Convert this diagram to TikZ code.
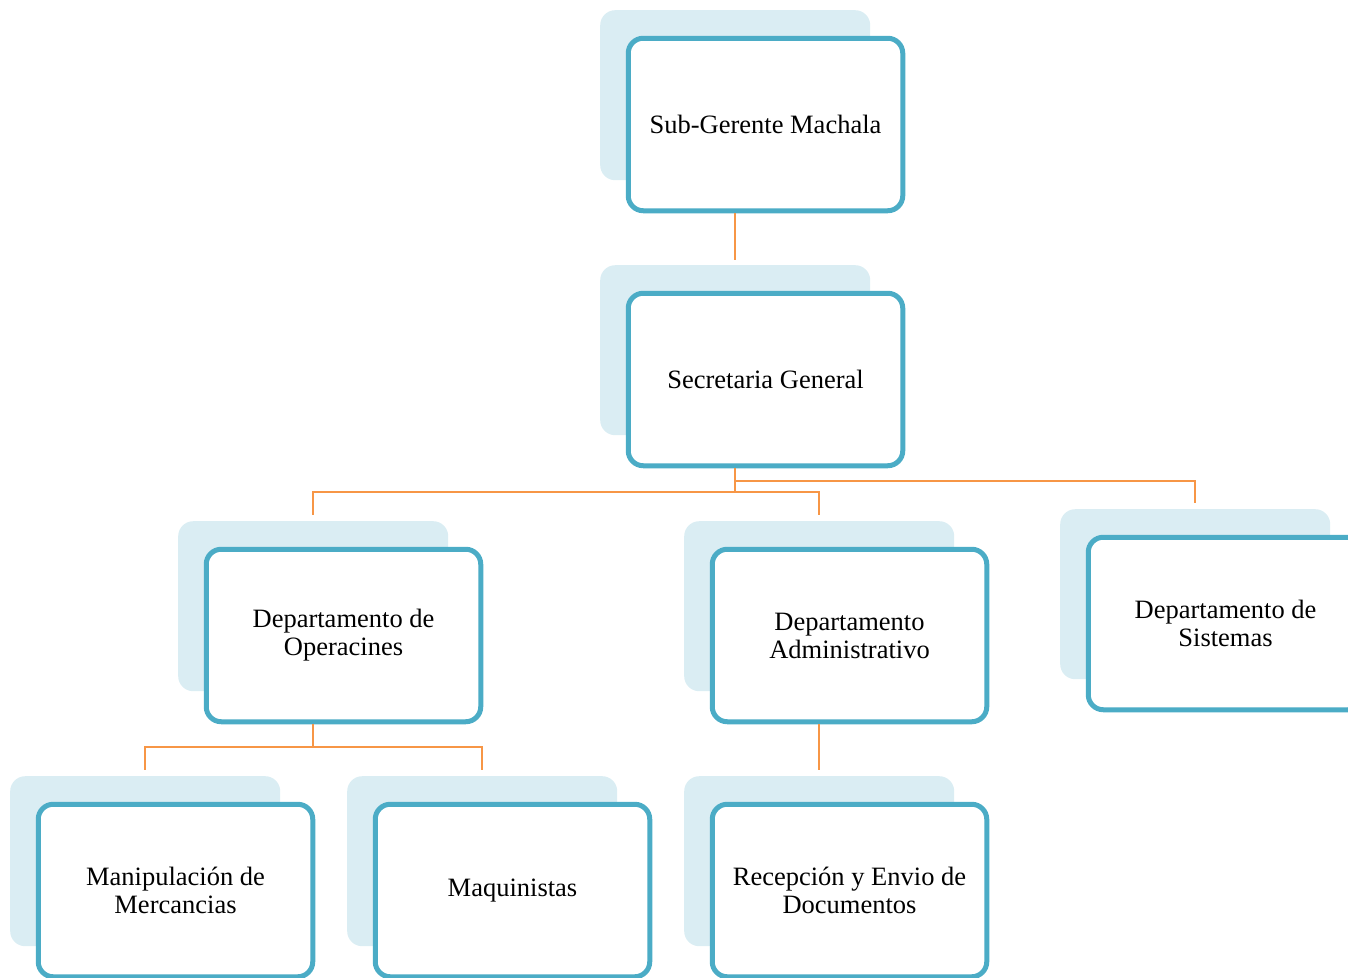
\documentclass[tikz,border=0pt]{standalone}
\usepackage{fontspec}
\setmainfont{Liberation Serif}
\definecolor{frame}{HTML}{4BACC6}
\definecolor{shade}{HTML}{DAEDF3}
\definecolor{link}{HTML}{F79646}

\tikzset{
  unitbox/.style={draw=frame, fill=white, line width=5pt, rounded corners=15pt,
    minimum width=274.5pt, minimum height=172.5pt, inner sep=0pt, align=center,
    font=\fontsize{26.5pt}{28pt}\selectfont},
  backbox/.style={fill=shade, draw=none, rounded corners=15pt,
    minimum width=270pt, minimum height=170pt, inner sep=0pt},
  wire/.style={draw=link, line width=2pt},
}

% one unit of the chart: a pale back card and the framed front card
% #1 name, #2/#3 top-left corner of the back card, #4 label
\newcommand\orgunit[4]{%
  \node[backbox, anchor=north west] (#1s) at (#2,#3) {};
  \node[unitbox] (#1) at (#2+165.5,#3+114.5) {#4};
}

\begin{document}
\begin{tikzpicture}[x=1pt, y=-1pt]
  \useasboundingbox (0,0) rectangle (1348,977);
  \clip (0,0) rectangle (1348,977);

  \orgunit{a}{600}{10}{Sub-Gerente Machala}
  \orgunit{b}{600}{265}{Secretaria General}
  \orgunit{c}{178}{521}{Departamento de\\Operacines}
  \orgunit{d}{684}{521}{Departamento\\Administrativo}
  \orgunit{e}{1060}{509}{Departamento de\\Sistemas}
  \orgunit{f}{10}{776}{Manipulación de\\Mercancias}
  \orgunit{g}{347}{776}{Maquinistas}
  \orgunit{h}{684}{776}{Recepción y Envio de\\Documentos}

  % bus levels
  \coordinate (busb) at (0,492);
  \coordinate (buse) at (0,481);
  \coordinate (busc) at (0,747);

  \draw[wire] (as.center |- a.south) -- ([yshift=5pt]bs.north);
  \draw[wire] (bs.center |- b.south) -- (bs.center |- busb) -| ([yshift=6pt]cs.north);
  \draw[wire] (bs.center |- busb) -| ([yshift=6pt]ds.north);
  \draw[wire] (bs.center |- buse) -| ([yshift=6pt]es.north);
  \draw[wire] (cs.center |- c.south) -- (cs.center |- busc) -| ([yshift=6pt]fs.north);
  \draw[wire] (cs.center |- busc) -| ([yshift=6pt]gs.north);
  \draw[wire] (ds.center |- d.south) -- ([yshift=6pt]hs.north);
\end{tikzpicture}
\end{document}
